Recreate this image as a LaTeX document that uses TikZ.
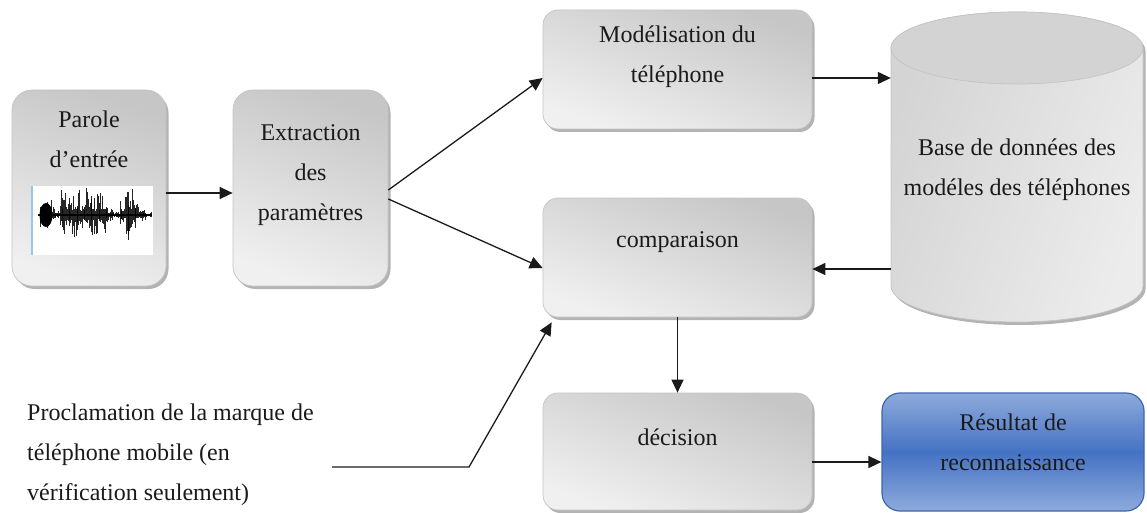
\documentclass[tikz,border=0pt]{standalone}
\usepackage{fontspec}
\setmainfont{Liberation Serif}
\usetikzlibrary{arrows.meta,shadows}
\definecolor{boxtop}{HTML}{C6C6C6}
\definecolor{boxbot}{HTML}{F0F0F0}
\definecolor{boxline}{HTML}{C4C4C4}
\definecolor{boxshadow}{HTML}{9A9A9A}
\definecolor{bluemid}{HTML}{4472C4}
\definecolor{bluelight}{HTML}{8EAADB}
\definecolor{blueline}{HTML}{3C65B2}
\definecolor{wavebar}{HTML}{9DC3E6}
\definecolor{ink}{HTML}{1A1A1A}
\definecolor{dbtop}{HTML}{D3D3D3}
\definecolor{dbleft}{HTML}{D4D4D4}
\definecolor{dbright}{HTML}{ECECEC}

\begin{document}
\begin{tikzpicture}[x=1pt,y=-1pt,
  graybox/.style={rounded corners=#1, draw=boxline, line width=0.7pt,
    top color=boxtop, bottom color=boxbot, shading angle=-20,
    drop shadow={shadow xshift=2.5pt, shadow yshift=-3pt, fill=boxshadow, opacity=0.75},
    inner sep=0pt},
  graybox/.default=15pt,
  bluebox/.style={rounded corners=18pt, draw=blueline, line width=1.2pt,
    top color=bluelight, bottom color=bluelight, middle color=bluemid, inner sep=0pt},
  txt/.style={font=\fontsize{24}{40}\selectfont, align=center, text=ink, inner sep=0pt},
  arr/.style={draw=ink, line width=1.3pt, -{Triangle[length=13pt,width=12pt]}}
]
\useasboundingbox (0,0) rectangle (1147,513);

% --- process boxes ---
\node[graybox=20pt, minimum width=154pt, minimum height=196pt] (A) at (89,188) {};
\node[graybox=20pt, minimum width=155pt, minimum height=196pt] (B) at (310.5,188) {};
\node[graybox, minimum width=269pt, minimum height=119pt] (C) at (677.5,69.5) {};
\node[graybox, minimum width=269pt, minimum height=119pt] (D) at (677.5,257.5) {};
\node[graybox, minimum width=269pt, minimum height=117pt] (E) at (677.5,451.5) {};
\node[bluebox, minimum width=262pt, minimum height=118pt] (F) at (1013,452) {};

% --- database cylinder ---
\begin{scope}[shift={(2.5,3)}]
  \fill[boxshadow, opacity=0.75] (891,48) -- (891,286)
    arc[start angle=180, end angle=360, x radius=126pt, y radius=36pt]
    -- (1143,48) arc[start angle=0, end angle=180, x radius=126pt, y radius=36pt] -- cycle;
\end{scope}
\path[draw=boxline, line width=0.7pt, left color=dbleft, right color=dbright, shading angle=70]
  (891,48) -- (891,286)
  arc[start angle=180, end angle=360, x radius=126pt, y radius=36pt]
  -- (1143,48) arc[start angle=0, end angle=180, x radius=126pt, y radius=36pt] -- cycle;
\path[fill=dbtop, draw=boxline, line width=0.7pt] (1017,48) ellipse[x radius=126pt, y radius=36pt];
\node[minimum width=252pt, minimum height=238pt, inner sep=0pt] (db) at (1017,167) {};

% --- speech waveform picture ---
\fill[white] (31,186) rectangle (153,255);
\draw[wavebar, line width=2pt] (32,186) -- (32,255);
\pgfmathsetseed{11}
\foreach \i in {0,...,127} {
  \pgfmathsetmacro\xx{40+\i*0.88}
  \pgfmathtruncatemacro\k{\i*17/128}
  \pgfmathsetmacro\amp{{15,17,8,30,24,32,20,28,22,26,10,4,18,30,16,8,4}[\k]}
  \pgfmathsetmacro\ra{rnd}
  \pgfmathsetmacro\rb{rnd}
  \pgfmathsetmacro\up{\amp*(0.2+0.8*\ra*\ra)}
  \pgfmathsetmacro\dn{\amp*(0.2+0.8*\rb*\rb)*0.9}
  \draw[black, line width=0.9pt, opacity=0.85] (\xx,215-\up) -- (\xx,215+\dn);
}
\fill[black] (46,215) ellipse[x radius=6.5pt, y radius=12pt];
\draw[black, line width=2pt] (38,215) -- (152,215);

% --- texts ---
\node[txt] (tA) at (89,139) {Parole\\d’entrée};
\node[txt] (tB) at (310.5,175) {Extraction\\des\\paramètres};
\node[txt] (tC) at (677.5,57) {Modélisation du\\téléphone};
\node[txt] (tD) at (677.5,242) {comparaison};
\node[txt] (tE) at (677.5,437) {décision};
\node[txt] (tF) at (1013,442) {Résultat de\\reconnaissance};
\node[txt] (tdb) at (1017,170) {Base de données des\\modéles des téléphones};
\node[txt, align=left, anchor=west] (claim) at (27,455)
  {Proclamation de la marque de\\téléphone mobile (en\\vérification seulement)};

% --- connectors ---
\draw[arr] ([yshift=-5pt]A.east) -- ([yshift=-5pt]A.east -| B.west);
\draw[arr] ([yshift=-2pt]B.east) -- ([yshift=-8.5pt]C.west);
\draw[arr] ([yshift=-11pt]B.east) -- ([yshift=-10.5pt]D.west);
\draw[arr] ([yshift=-8.5pt]C.east) -- ([yshift=-8.5pt]C.east -| db.west);
\draw[arr] ([yshift=-11.5pt]D.east -| db.west) -- ([yshift=-11.5pt]D.east);
\draw[arr] (D.south) -- (E.north);
\draw[arr] ([yshift=-10.5pt]E.east) -- ([yshift=-10.5pt]E.east -| F.west);
\coordinate (cstart) at (332,467);
\coordinate (ckink) at (469,467);
\draw[arr] (cstart) -- (ckink) -- ([xshift=9pt,yshift=-5pt]D.south west);
\end{tikzpicture}
\end{document}
